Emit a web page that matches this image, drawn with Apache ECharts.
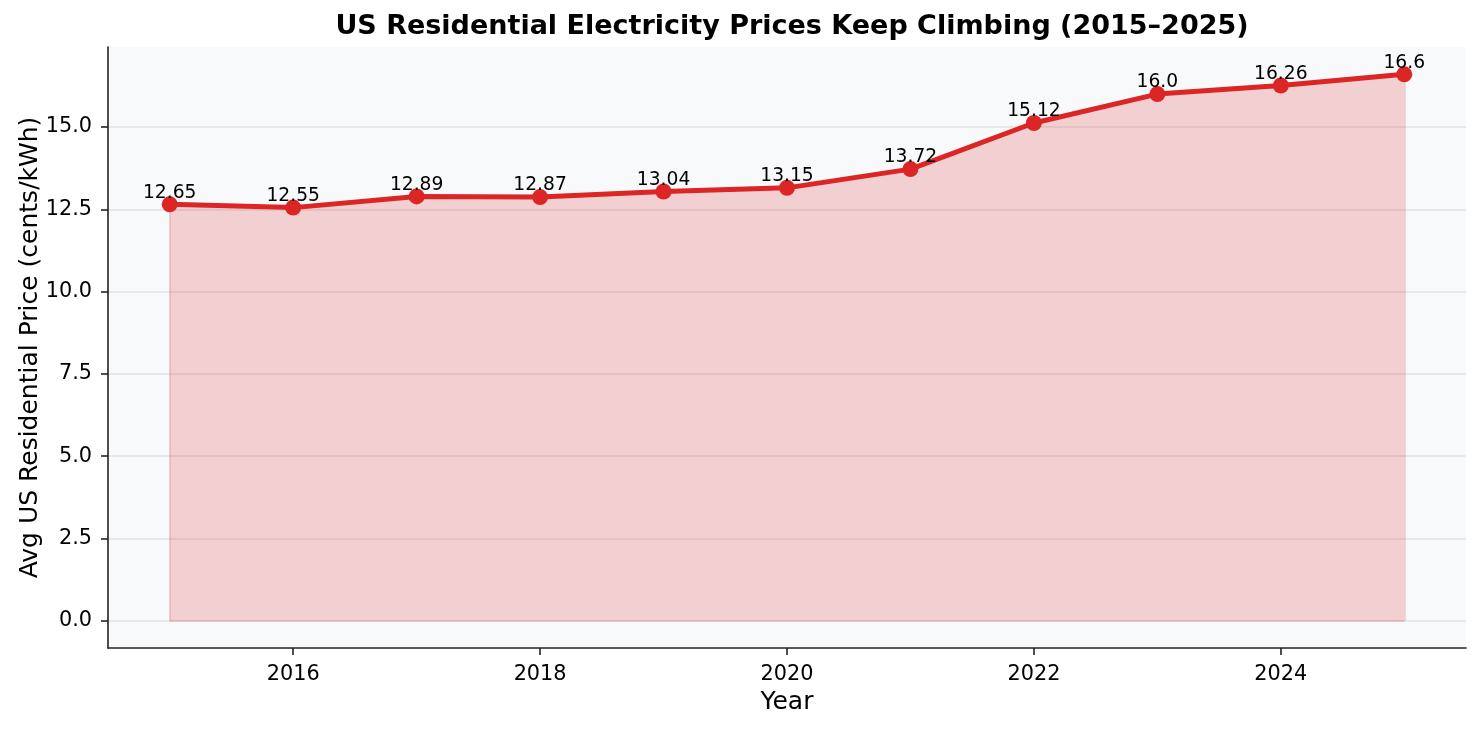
<!DOCTYPE html>
<html>
<head>
<meta charset="utf-8">
<script src="https://cdn.jsdelivr.net/npm/echarts@6/dist/echarts.min.js"></script>
<style>
  html, body { margin: 0; padding: 0; background: #ffffff; }
  #chart { width: 1482px; height: 730px; }
</style>
</head>
<body>
<div id="chart"></div>
<script>
// data
const years = [2015, 2016, 2017, 2018, 2019, 2020, 2021, 2022, 2023, 2024, 2025];
const prices = [12.65, 12.55, 12.89, 12.87, 13.04, 13.15, 13.72, 15.12, 16.0, 16.26, 16.6];
const xTicks = [2016, 2018, 2020, 2022, 2024];
const yTicks = [0, 2.5, 5, 7.5, 10, 12.5, 15];

const red = '#dc2626';
const font = 'DejaVu Sans';

let chart = echarts.init(document.getElementById('chart'));

let points = years.map(function (y, i) { return [y, prices[i]]; });

// edges of the filled region (left, right, bottom)
let first = points[0], last = points[points.length - 1];
let edgeLines = [
    [{ coord: [first[0], 0] }, { coord: first }],
    [{ coord: [last[0], 0] }, { coord: last }],
    [{ coord: [first[0], 0] }, { coord: [last[0], 0] }]
];

let option = {
    animation: false,
    textStyle: { fontFamily: font },
    title: {
        text: 'US Residential Electricity Prices Keep Climbing (2015\u20132025)',
        left: 787,
        textAlign: 'center',
        top: 8,
        textStyle: { fontFamily: font, fontSize: 27, fontWeight: 'bold', color: '#000' }
    },
    grid: {
        left: 108,
        right: 16,
        top: 47,
        bottom: 82,
        show: true,
        backgroundColor: '#f8f9fb',
        borderWidth: 0
    },
    xAxis: {
        type: 'value',
        min: 2014.5,
        max: 2025.5,
        name: 'Year',
        nameLocation: 'middle',
        nameGap: 42,
        nameMoveOverlap: false,
        nameTextStyle: { fontFamily: font, fontSize: 25, color: '#000' },
        axisLine: { show: true, onZero: false, lineStyle: { color: '#222', width: 1.6 } },
        axisTick: { show: true, length: 7, customValues: xTicks, lineStyle: { color: '#222', width: 1.6 } },
        axisLabel: {
            customValues: xTicks,
            fontFamily: font,
            fontSize: 20.8,
            color: '#000',
            margin: 16,
            formatter: function (v) { return String(v); }
        },
        splitLine: { show: false }
    },
    yAxis: {
        type: 'value',
        min: -0.83,
        max: 17.43,
        name: 'Avg US Residential Price (cents/kWh)',
        nameLocation: 'middle',
        nameGap: 65,
        nameMoveOverlap: false,
        nameTextStyle: { fontFamily: font, fontSize: 25, color: '#000' },
        axisLine: { show: true, onZero: false, lineStyle: { color: '#222', width: 1.6 } },
        axisTick: { show: true, length: 7, customValues: yTicks, lineStyle: { color: '#222', width: 1.6 } },
        axisLabel: {
            customValues: yTicks,
            fontFamily: font,
            fontSize: 20.8,
            color: '#000',
            margin: 16,
            formatter: function (v) { return v.toFixed(1); }
        },
        splitLine: { show: true, lineStyle: { color: '#e1e2e4', width: 1.6 } }
    },
    series: [{
        name: 'Price',
        type: 'line',
        data: points,
        symbol: 'circle',
        symbolSize: 16,
        lineStyle: { color: red, width: 5 },
        itemStyle: { color: red },
        areaStyle: { color: red, opacity: 0.2, origin: 0 },
        label: {
            show: true,
            position: 'top',
            distance: -6,
            fontFamily: font,
            fontSize: 18.7,
            color: '#000',
            formatter: function (p) {
                let v = prices[p.dataIndex];
                return Number.isInteger(v) ? v.toFixed(1) : String(v);
            }
        },
        markLine: {
            silent: true,
            symbol: 'none',
            label: { show: false },
            lineStyle: { color: 'rgba(220,38,38,0.22)', width: 1.5, type: 'solid' },
            data: edgeLines,
            z: 1
        },
        z: 3
    }]
};

chart.setOption(option);

window.addEventListener('resize', function () {
    chart.resize();
});
</script>
</body>
</html>
